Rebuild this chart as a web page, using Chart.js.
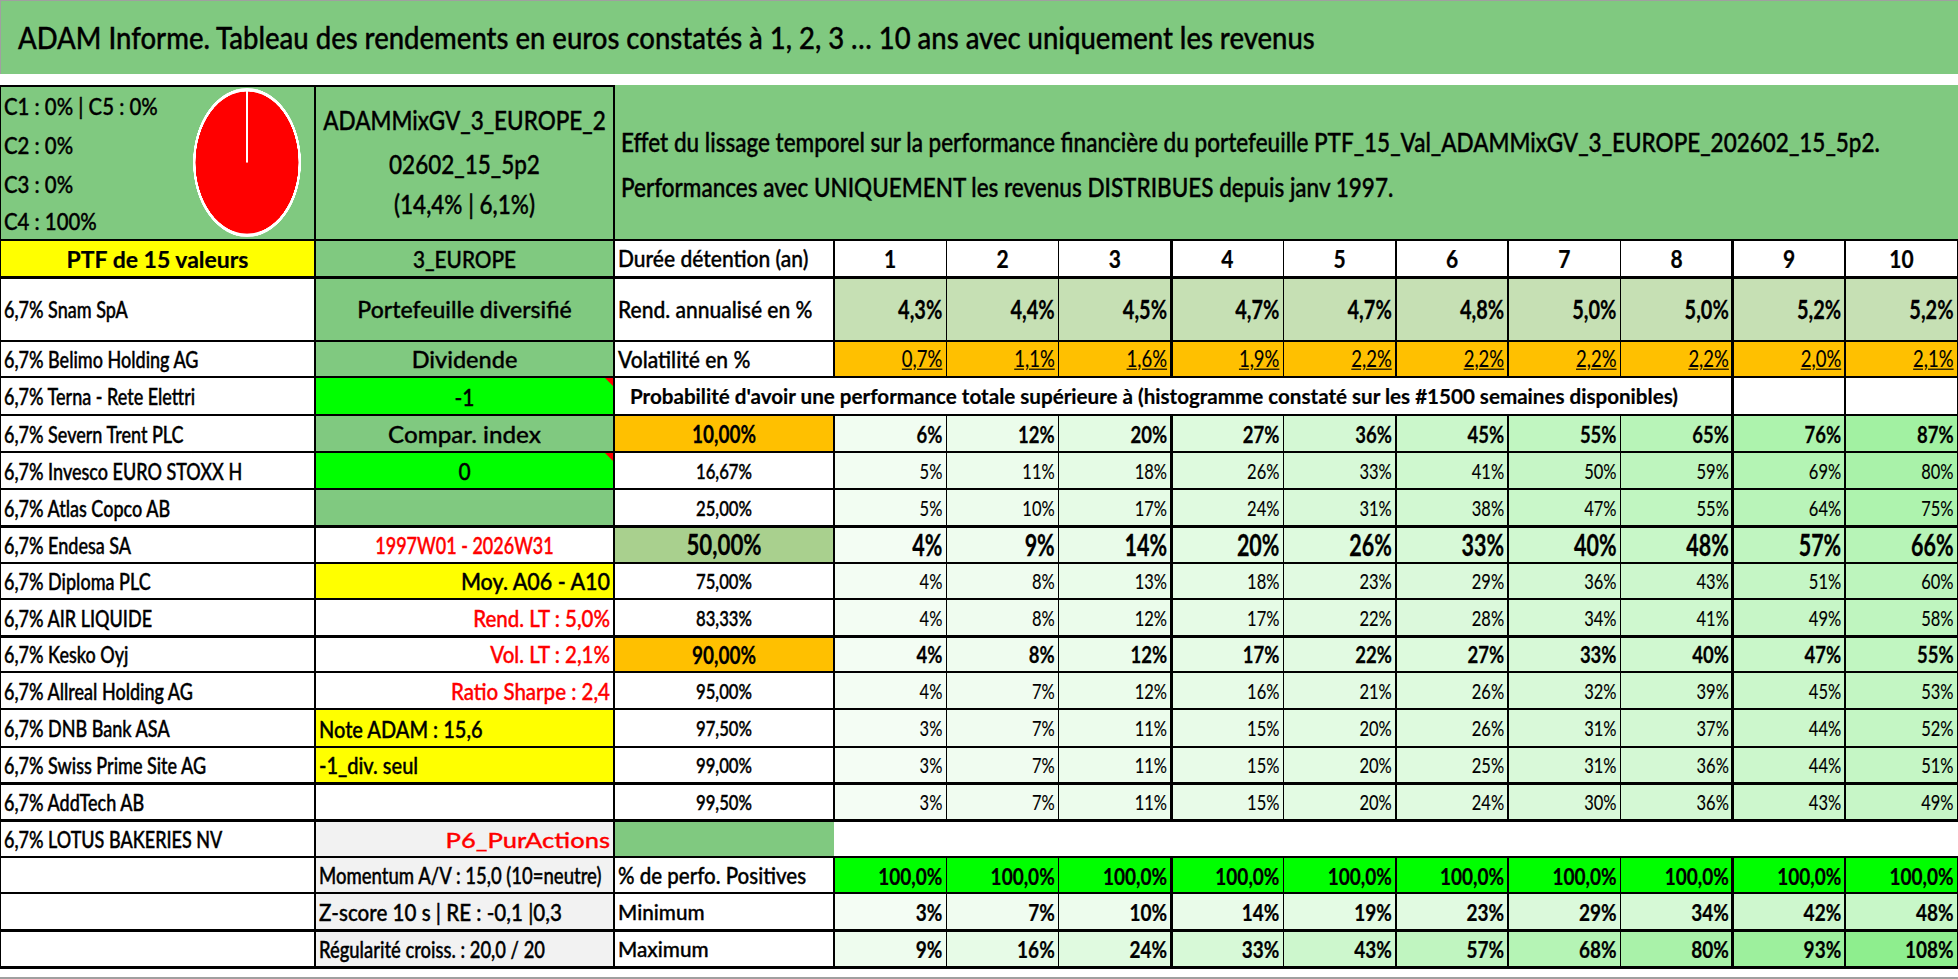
<!DOCTYPE html>
<html><head><meta charset="utf-8">
<script src="https://cdn.jsdelivr.net/npm/chart.js@4.4.1/dist/chart.umd.min.js"></script>
<style>
html,body{margin:0;padding:0;background:#fff;}
#page{position:relative;width:1958px;height:979px;overflow:hidden;font-family:Lato,"Open Sans",sans-serif;color:#000;}
.c{position:absolute;box-sizing:border-box;display:flex;align-items:center;white-space:nowrap;}
.c span{display:inline-block;transform-origin:50% 50%;}
.ln{position:absolute;background:#000;}
</style></head><body><div id="page"></div>
<script>
// ---------- DATA ----------
const titleText = "ADAM Informe. Tableau des rendements en euros constatés à 1, 2, 3 … 10 ans avec uniquement les revenus";
const pieLabels = ["C1", "C2", "C3", "C4", "C5"];
const pieValues = [0, 0, 0, 100, 0];
const pieLegendLines = ["C1 : 0% | C5 : 0%", "C2 : 0%", "C3 : 0%", "C4 : 100%"];
const portfolioLines = ["ADAMMixGV_3_EUROPE_2", "02602_15_5p2", "(14,4% | 6,1%)"];
const effetLines = ["Effet du lissage temporel sur la performance financière du portefeuille PTF_15_Val_ADAMMixGV_3_EUROPE_202602_15_5p2.",
                    "Performances avec UNIQUEMENT les revenus DISTRIBUES depuis janv 1997."];
const ptfLabel = "PTF de 15 valeurs";
const zoneLabel = "3_EUROPE";
const names = ["6,7% Snam SpA", "6,7% Belimo Holding AG", "6,7% Terna - Rete Elettri", "6,7% Severn Trent PLC",
  "6,7% Invesco EURO STOXX H", "6,7% Atlas Copco AB", "6,7% Endesa SA", "6,7% Diploma PLC", "6,7% AIR LIQUIDE",
  "6,7% Kesko Oyj", "6,7% Allreal Holding AG", "6,7% DNB Bank ASA", "6,7% Swiss Prime Site AG", "6,7% AddTech AB",
  "6,7% LOTUS BAKERIES NV"];
const infoLabels = ["Portefeuille diversifié", "Dividende", "-1", "Compar. index", "0", "", "1997W01 - 2026W31",
  "Moy. A06 - A10", "Rend. LT : 5,0%", "Vol. LT : 2,1%", "Ratio Sharpe : 2,4", "Note ADAM : 15,6", "-1_div. seul", "",
  "P6_PurActions", "Momentum A/V : 15,0 (10=neutre)", "Z-score 10 s | RE : -0,1 |0,3", "Régularité croiss. : 20,0 / 20"];
const horizonHeader = "Durée détention (an)";
const horizons = [1, 2, 3, 4, 5, 6, 7, 8, 9, 10];
const rendLabel = "Rend. annualisé en %";
const rendAnnualise = [4.3, 4.4, 4.5, 4.7, 4.7, 4.8, 5.0, 5.0, 5.2, 5.2];
const volLabel = "Volatilité en %";
const volatilite = [0.7, 1.1, 1.6, 1.9, 2.2, 2.2, 2.2, 2.2, 2.0, 2.1];
const probTitle = "Probabilité d'avoir une performance totale supérieure à (histogramme constaté sur les #1500 semaines disponibles)";
const thresholds = [10.00, 16.67, 25.00, 50.00, 75.00, 83.33, 90.00, 95.00, 97.50, 99.00, 99.50];
const prob10 = [6, 12, 20, 27, 36, 45, 55, 65, 76, 87];
const prob16 = [5, 11, 18, 26, 33, 41, 50, 59, 69, 80];
const prob25 = [5, 10, 17, 24, 31, 38, 47, 55, 64, 75];
const prob50 = [4, 9, 14, 20, 26, 33, 40, 48, 57, 66];
const prob75 = [4, 8, 13, 18, 23, 29, 36, 43, 51, 60];
const prob83 = [4, 8, 12, 17, 22, 28, 34, 41, 49, 58];
const prob90 = [4, 8, 12, 17, 22, 27, 33, 40, 47, 55];
const prob95 = [4, 7, 12, 16, 21, 26, 32, 39, 45, 53];
const prob975 = [3, 7, 11, 15, 20, 26, 31, 37, 44, 52];
const prob99 = [3, 7, 11, 15, 20, 25, 31, 36, 44, 51];
const prob995 = [3, 7, 11, 15, 20, 24, 30, 36, 43, 49];
const posLabel = "% de perfo. Positives";
const perfPositives = [100.0, 100.0, 100.0, 100.0, 100.0, 100.0, 100.0, 100.0, 100.0, 100.0];
const minLabel = "Minimum";
const minimum = [3, 7, 10, 14, 19, 23, 29, 34, 42, 48];
const maxLabel = "Maximum";
const maximum = [9, 16, 24, 33, 43, 57, 68, 80, 93, 108];

// ---------- LAYOUT ----------
const probRows = [prob10, prob16, prob25, prob50, prob75, prob83, prob90, prob95, prob975, prob99, prob995];
const P = document.getElementById('page');
const K = 1.23;
const GREEN = '#80c980', LGREEN = '#c6e0b4', MGREEN = '#a9d08e', BRIGHT = '#00ff00', ORANGE = '#ffc000', YELLOW = '#ffff00', GRAY = '#f2f2f2', RED = '#ff0000';
const XA = 0, XB = 315, XC = 614, XD = 834, DW = 112.36;
const dx = i => XD + i * DW;
const RY = [240, 277, 341, 377, 415, 452, 489, 526, 563, 599, 636, 672, 709, 747, 783, 820, 857, 893, 930, 967];

function box(x0, y0, x1, y1, bg) {
  const d = document.createElement('div'); d.className = 'c';
  Object.assign(d.style, {left: x0 + 'px', top: y0 + 'px', width: (x1 - x0) + 'px', height: (y1 - y0) + 'px'});
  if (bg) d.style.background = bg;
  P.appendChild(d); return d;
}
function cell(x0, y0, x1, y1, bg, text, o = {}) {
  const d = box(x0, y0, x1, y1, bg);
  if (text !== undefined && text !== '') {
    const s = document.createElement('span');
    s.textContent = text;
    const w = o.w || 500;
    s.style.fontSize = (o.size || 18) + 'px';
    s.style.fontWeight = w;
    s.style.color = o.color || '#000';
    s.style.transform = 'scaleY(' + (o.k || K) + ')';
    s.style.webkitTextStroke = (w === 500 ? 0.35 : w === 700 ? 0.2 : 0.1) + 'px ' + (o.color || '#000');
    if (o.u) s.style.textDecoration = 'underline';
    d.style.justifyContent = o.a === 'l' ? 'flex-start' : o.a === 'r' ? 'flex-end' : 'center';
    d.style.paddingLeft = (o.pl ?? 4) + 'px'; d.style.paddingRight = (o.pr ?? 4) + 'px';
    d.appendChild(s);
  }
  return d;
}
function textAt(x0, x1, base, text, o = {}) {
  const size = o.size || 18, H = size * 1.5, k = o.k || K;
  const top = base - 0.387 * size * k - H / 2;
  return cell(x0, top, x1, top + H, null, text, o);
}
function hl(y, x0, x1, t = 2, col) {
  const d = document.createElement('div'); d.className = 'ln';
  Object.assign(d.style, {left: (x0 - 1) + 'px', top: (y - t / 2) + 'px', width: (x1 - x0 + 2) + 'px', height: t + 'px'});
  if (col) d.style.background = col;
  P.appendChild(d);
}
function vl(x, y0, y1, t = 2, col) {
  const d = document.createElement('div'); d.className = 'ln';
  Object.assign(d.style, {left: (x - t / 2) + 'px', top: (y0 - 1) + 'px', width: t + 'px', height: (y1 - y0 + 2) + 'px'});
  if (col) d.style.background = col;
  P.appendChild(d);
}
const pct1 = v => v.toFixed(1).replace('.', ',') + '%';
const pct2 = v => v.toFixed(2).replace('.', ',') + '%';
const pct0 = v => Math.round(v) + '%';
const allScale = probRows.flat().concat(minimum, maximum);
const sMin = Math.min(...allScale), sMax = Math.max(...allScale);
function scaleColor(v) {
  const t = (v - sMin) / (sMax - sMin);
  const lo = [244, 253, 244], hi = [142, 238, 142];
  const c = lo.map((l, i) => Math.round(l + (hi[i] - l) * t));
  return 'rgb(' + c.join(',') + ')';
}

// Title band
box(0, 0, 1958, 74, GREEN);
textAt(18, 1900, 50, titleText, {a: 'l', size: 27.5, pl: 0, k: 1.13});
// top block
box(XA, 85, XB, 240, GREEN);
box(XB, 85, XC, 240, GREEN);
box(XC, 85, 1958, 240, GREEN);
[115, 154, 193, 230].forEach((b, i) => textAt(0, 190, b, pieLegendLines[i], {a: 'l', size: 20.4, k: 1.14}));
[130, 174, 214].forEach((b, i) => textAt(XB, XC, b, portfolioLines[i], {a: 'c', size: 22.5, k: 1.18}));
[152, 197].forEach((b, i) => textAt(XC + 3, 1958, b, effetLines[i], {a: 'l', size: 22.5, pl: 4, k: 1.2}));

// header row
cell(XA, RY[0], XB, RY[1], YELLOW, ptfLabel, {w: 700, size: 23, k: 0.98});
cell(XB, RY[0], XC, RY[1], GREEN, zoneLabel, {size: 20.8, k: 1.06});
cell(XC, RY[0], XD, RY[1], '#fff', horizonHeader, {a: 'l', size: 21, k: 1.05});
horizons.forEach((h, i) => cell(dx(i), RY[0], dx(i + 1), RY[1], '#fff', String(h), {w: 700, size: 21, k: 1.16}));

// names column
names.forEach((n, i) => cell(XA, RY[i + 1], XB, RY[i + 2], '#fff', n, {a: 'l', size: 18, k: 1.24}));
for (let r = 16; r <= 18; r++) cell(XA, RY[r], XB, RY[r + 1], '#fff', '');

// info column B
const bBg = [GREEN, GREEN, BRIGHT, GREEN, BRIGHT, GREEN, '#fff', YELLOW, '#fff', '#fff', '#fff', YELLOW, YELLOW, '#fff', GRAY, GRAY, GRAY, GRAY];
const bAlign = ['c', 'c', 'c', 'c', 'c', 'c', 'c', 'r', 'r', 'r', 'r', 'l', 'l', 'c', 'r', 'l', 'l', 'l'];
const bSize = [23, 23.5, 21, 24.2, 21, 20.5, 18, 21.5, 20.5, 20.5, 20.5, 20, 20, 20.5, 25.5, 18.5, 20.6, 18.4];
const bK = [1.01, 0.98, 1.1, 0.96, 1.1, 1.13, 1.28, 1.08, 1.13, 1.13, 1.13, 1.19, 1.15, 1.13, 0.86, 1.24, 1.13, 1.26];
const bRed = [6, 8, 9, 10, 14];
infoLabels.forEach((t, i) => cell(XB, RY[i + 1], XC, RY[i + 2], bBg[i], t,
  {a: bAlign[i], color: bRed.includes(i) ? RED : '#000', size: bSize[i], k: bK[i]}));
// comment markers
[3, 5].forEach(r => {
  const d = document.createElement('div');
  Object.assign(d.style, {position: 'absolute', left: (XC - 9) + 'px', top: (RY[r] + 1) + 'px', width: 0, height: 0,
    borderLeft: '8px solid transparent', borderTop: '8px solid ' + RED});
  P.appendChild(d);
});

// rendement / volatilite
cell(XC, RY[1], XD, RY[2], '#fff', rendLabel, {a: 'l', size: 21, k: 1.05});
rendAnnualise.forEach((v, i) => cell(dx(i), RY[1], dx(i + 1), RY[2], LGREEN, pct1(v), {a: 'r', w: 700, size: 20, k: 1.3}));
cell(XC, RY[2], XD, RY[3], '#fff', volLabel, {a: 'l', size: 21, k: 1.05});
volatilite.forEach((v, i) => cell(dx(i), RY[2], dx(i + 1), RY[3], ORANGE, pct1(v), {a: 'r', w: 400, size: 18.5, k: 1.2, u: true}));
// prob title
cell(XC, RY[3], dx(8), RY[4], '#fff', probTitle, {a: 'l', pl: 16, w: 700, size: 20.6, k: 1.05});
cell(dx(8), RY[3], dx(10), RY[4], '#fff', '');

// probability block
const boldRows = [0, 3, 6];
thresholds.forEach((th, k) => {
  const r = 4 + k;
  const cBg = k === 0 || k === 6 ? ORANGE : k === 3 ? MGREEN : '#fff';
  const bold = boldRows.includes(k);
  const big = k === 3;
  cell(XC, RY[r], XD, RY[r + 1], cBg, pct2(th), bold ? {w: 700, size: big ? 22.3 : 19, k: 1.25} : {w: 500, size: 16.7, k: 1.3});
  probRows[k].forEach((v, i) => cell(dx(i), RY[r], dx(i + 1), RY[r + 1], scaleColor(v), pct0(v),
    bold ? {a: 'r', w: 700, size: big ? 21.5 : 18.5, k: big ? 1.38 : 1.27} : {a: 'r', w: 400, size: 16.5, k: 1.32}));
});
// LOTUS row C
cell(XC, RY[15], XD, RY[16], GREEN, '');
// bottom stats
cell(XC, RY[16], XD, RY[17], '#fff', posLabel, {a: 'l', size: 20.5, k: 1.12});
perfPositives.forEach((v, i) => cell(dx(i), RY[16], dx(i + 1), RY[17], BRIGHT, pct1(v), {a: 'r', w: 700, size: 19, k: 1.23}));
cell(XC, RY[17], XD, RY[18], '#fff', minLabel, {a: 'l', size: 20.7, k: 1.05});
minimum.forEach((v, i) => cell(dx(i), RY[17], dx(i + 1), RY[18], scaleColor(v), pct0(v), {a: 'r', w: 700, size: 19, k: 1.23}));
cell(XC, RY[18], XD, RY[19], '#fff', maxLabel, {a: 'l', size: 20.7, k: 1.05});
maximum.forEach((v, i) => cell(dx(i), RY[18], dx(i + 1), RY[19], scaleColor(v), pct0(v), {a: 'r', w: 700, size: 19, k: 1.23}));

// ---------- GRID LINES ----------
const thick = [277, 526, 636, 783, 820, 930, 967];
hl(85, XA, XC, 3);
hl(240, XA, 1958, 2);
for (let r = 1; r < RY.length; r++) {
  const y = RY[r], t = thick.includes(y) ? 3 : 2;
  hl(y, XA, 1958, t);
}
vl(0, 85, 967, 2); vl(XB, 85, 967, 2); vl(XC, 85, 967, 2);
const dSegs = [[240, 377], [415, 820], [857, 967]];
dSegs.forEach(([a, b]) => vl(XD, a, b, 2));
for (let i = 1; i <= 10; i++) {
  const x = dx(i), t = (i === 3 || i === 8) ? 3 : 1.5;
  dSegs.forEach(([a, b]) => vl(x, a, b, i === 10 ? 2 : t));
  if (i >= 8) vl(x, 377, 415, t);
}
// outer frame lines (screenshot edges)
hl(0.5, 0, 1958, 1, '#a0a0a0');
vl(0.5, 0, 74, 1, '#a0a0a0');
hl(978, 0, 1958, 1.5, '#a0a0a0');
// white strip
box(0, 74, 1958, 85, '#fff');

// ---------- PIE (Chart.js) ----------
const pw = document.createElement('div');
Object.assign(pw.style, {position: 'absolute', left: '193px', top: '88px', width: '108px', height: '108px',
  transform: 'scaleY(1.38)', transformOrigin: '0 0'});
const cv = document.createElement('canvas');
cv.width = 108; cv.height = 108;
pw.appendChild(cv); P.appendChild(pw);
new Chart(cv, {
  type: 'pie',
  data: {labels: pieLabels, datasets: [{data: pieValues,
    backgroundColor: ['#00b050', '#92d050', '#ffc000', '#ff0000', '#0070c0'],
    borderColor: '#ffffff', borderWidth: 2.5}]},
  options: {responsive: false, animation: false, devicePixelRatio: 3,
    layout: {padding: 0},
    plugins: {legend: {display: false}, tooltip: {enabled: false}}}
});
</script></body></html>
